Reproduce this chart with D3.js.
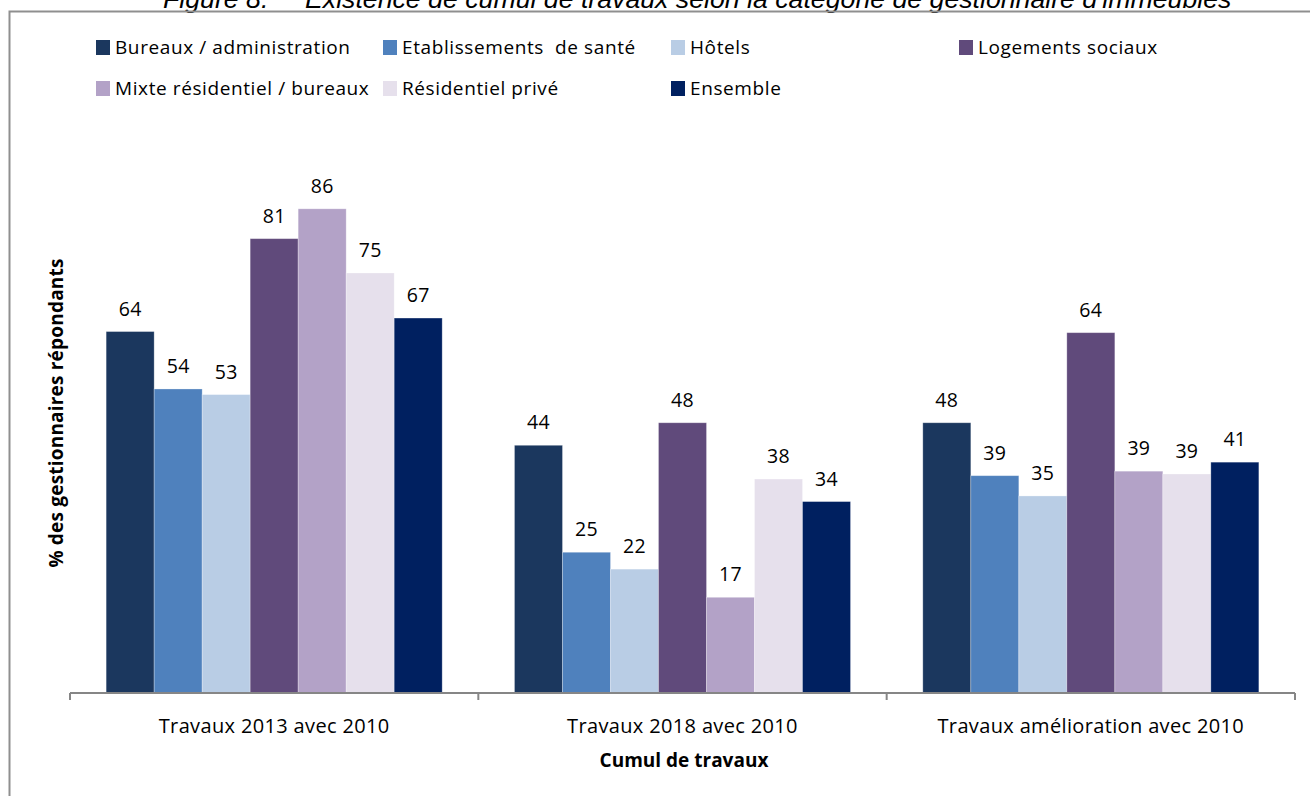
<!DOCTYPE html>
<html>
<head>
<meta charset="utf-8">
<script src="https://cdn.jsdelivr.net/npm/d3@7"></script>
<style>
  html, body { margin: 0; padding: 0; background: #ffffff; }
  svg { display: block; }
  text { font-family: "Open Sans", Lato, sans-serif; fill: #000; }
</style>
</head>
<body>
<svg id="chart" width="1310" height="796"></svg>
<script>
// ---- Data ----
const categories = ["Travaux 2013 avec 2010", "Travaux 2018 avec 2010", "Travaux amélioration avec 2010"];
const seriesNames = ["Bureaux / administration", "Etablissements  de santé", "Hôtels", "Logements sociaux",
                     "Mixte résidentiel / bureaux", "Résidentiel privé", "Ensemble"];
const seriesColors = ["#1B375E", "#4F81BD", "#B9CDE5", "#604A7B", "#B3A2C7", "#E6E0EC", "#002060"];
const bureaux        = [64.2, 44, 48];
const etablissements = [54, 25, 38.6];
const hotels         = [53, 22, 35];
const logements      = [80.7, 48, 64];
const mixte          = [86, 17, 39.4];
const residentiel    = [74.6, 38, 38.9];
const ensemble       = [66.6, 34, 41];
const seriesValues = [bureaux, etablissements, hotels, logements, mixte, residentiel, ensemble];

const titleLeft = "Figure 8.";
const titleRight = "Existence de cumul de travaux selon la catégorie de gestionnaire d'immeubles";
const yTitle = "% des gestionnaires répondants";
const xTitle = "Cumul de travaux";

// ---- Layout ----
const svg = d3.select("#chart");
const baseY = 693;
const x0 = d3.scaleBand().domain(categories).range([70, 1295]).paddingInner(0).paddingOuter(0);
const x1 = d3.scaleBand().domain(d3.range(seriesNames.length)).range([0, x0.bandwidth()])
  .paddingInner(0).paddingOuter(0.753);
const y = d3.scaleLinear().domain([0, 100]).range([baseY, 130]);

// title (clipped at top, as in the source figure)
svg.append("text").attr("x", 163).attr("y", 8)
  .style("font-family", "'Liberation Sans', Arial, sans-serif").style("font-style", "italic")
  .style("font-size", "26.7px").text(titleLeft);
svg.append("text").attr("x", 305).attr("y", 8)
  .style("font-family", "'Liberation Sans', Arial, sans-serif").style("font-style", "italic")
  .style("font-size", "26.7px").text(titleRight);

// frame
svg.append("path").attr("d", "M9.5,796 V11.5 H1310")
  .attr("fill", "none").attr("stroke", "#8f8f8f").attr("stroke-width", 2);

// legend
const legendPos = [[96, 40], [383, 40], [671, 40], [959, 40], [96, 81], [383, 81], [671, 81]];
const leg = svg.append("g");
seriesNames.forEach((name, i) => {
  const [lx, ly] = legendPos[i];
  leg.append("rect").attr("x", lx).attr("y", ly).attr("width", 14).attr("height", 15)
    .attr("fill", seriesColors[i]);
  leg.append("text").attr("x", lx + 19).attr("y", ly + 13.5)
    .style("font-size", "19px").style("letter-spacing", "0.6px")
    .style("white-space", "pre").text(name);
});

// bars
const groups = svg.append("g").selectAll("g").data(categories).join("g")
  .attr("transform", d => `translate(${x0(d)},0)`);
groups.each(function(cat, ci) {
  const g = d3.select(this);
  seriesValues.forEach((vals, si) => {
    g.append("rect")
      .attr("x", x1(si)).attr("y", y(vals[ci]))
      .attr("width", x1.bandwidth()).attr("height", baseY - y(vals[ci]))
      .attr("fill", seriesColors[si])
      .attr("stroke", "rgba(255,255,255,0.35)").attr("stroke-width", 0.8);
    g.append("text")
      .attr("x", x1(si) + x1.bandwidth() / 2).attr("y", y(vals[ci]) - 16)
      .attr("text-anchor", "middle").style("font-size", "19.5px").style("letter-spacing", "0.3px")
      .text(d3.format("d")(Math.round(vals[ci])));
  });
});

// x axis
const xAxis = d3.axisBottom(x0).tickSize(0).tickFormat("");
const axG = svg.append("g").attr("transform", `translate(0,${baseY})`).call(xAxis);
axG.select(".domain").attr("stroke", "#868686").attr("stroke-width", 2).attr("d", "M70,0H1295");
const bounds = [70].concat(categories.map(c => x0(c) + x0.bandwidth()));
axG.selectAll(".bound").data(bounds).join("line").attr("class", "bound")
  .attr("x1", d => d).attr("x2", d => d).attr("y1", 0).attr("y2", 7)
  .attr("stroke", "#868686").attr("stroke-width", 2);
axG.selectAll(".cat").data(categories).join("text").attr("class", "cat")
  .attr("x", d => x0(d) + x0.bandwidth() / 2).attr("y", 40)
  .attr("text-anchor", "middle").style("font-size", "20px").style("letter-spacing", "0.35px")
  .style("fill", "#000").style("font-family", "'Open Sans', sans-serif").text(d => d);

// axis titles
svg.append("text").attr("x", 684).attr("y", 767).attr("text-anchor", "middle")
  .style("font-size", "19px").style("font-weight", "bold").text(xTitle);
svg.append("text").attr("transform", "translate(63,413) rotate(-90)").attr("text-anchor", "middle")
  .style("font-size", "19px").style("font-weight", "bold").style("letter-spacing", "0.2px").text(yTitle);
</script>
</body>
</html>
